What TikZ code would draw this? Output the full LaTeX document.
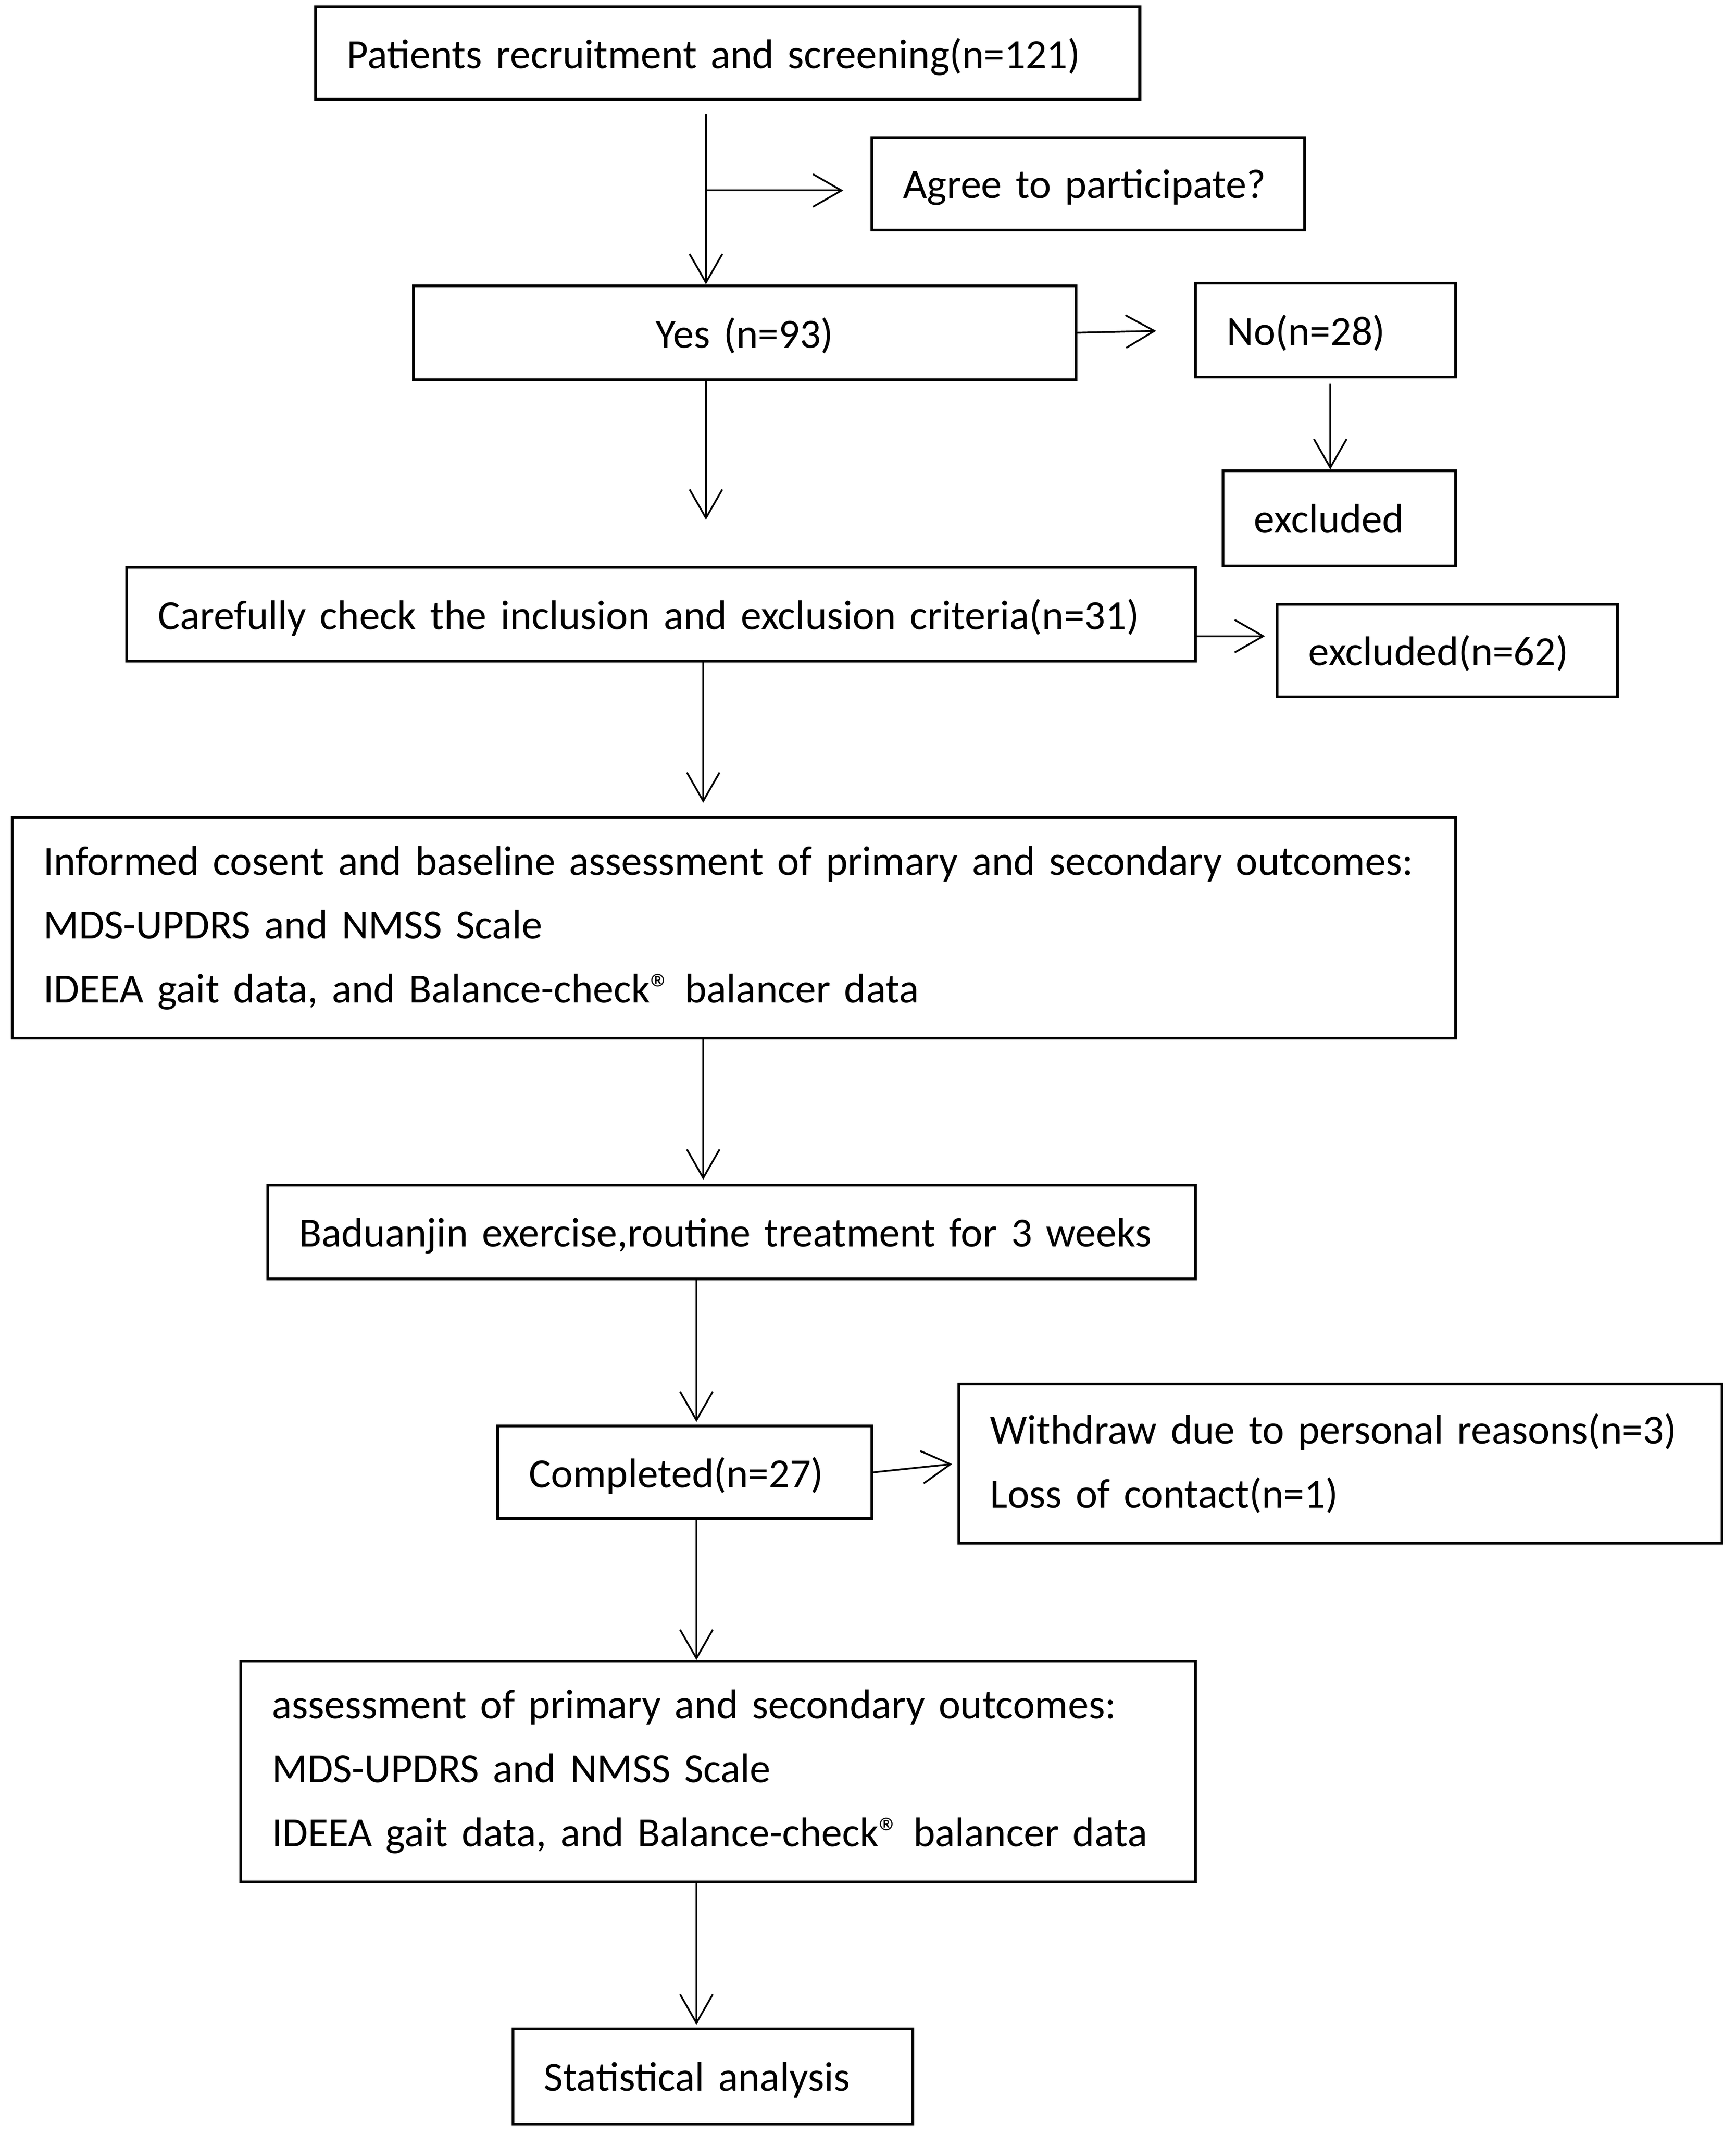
\documentclass[tikz,border=0pt]{standalone}
\usepackage{fontspec}
\setmainfont{Carlito}
\usetikzlibrary{arrows.meta}
\begin{document}
\begin{tikzpicture}[x=1pt,y=-1pt,
  box/.style={draw=black, line width=2pt, anchor=north west, inner xsep=23pt, inner ysep=0pt,
    align=left, font=\fontsize{30.5}{47}\selectfont},
  oneline/.style={box, text depth=0pt},
  conn/.style={draw=black, line width=1.3pt, -{Straight Barb[length=21pt,width=24pt,line width=1.3pt]}}
]
\useasboundingbox[fill=white] (0,0) rectangle (1276,1568.3);
\node[oneline, minimum width=606pt, minimum height=68pt, text width=560pt] (A) at (231,4) {\mbox{Patients recruitment and screening(n=121)}};
\node[oneline, minimum width=318pt, minimum height=68pt, text width=272pt] (agree) at (640,100) {\mbox{Agree to participate?}};
\node[oneline, minimum width=487pt, minimum height=69pt, text width=441pt, align=center] (yes) at (303,209) {Yes (n=93)};
\node[oneline, minimum width=191pt, minimum height=69pt, text width=145pt] (no) at (878,207) {\mbox{No(n=28)}};
\node[oneline, minimum width=171pt, minimum height=70pt, text width=125pt] (exa) at (898,345) {\mbox{excluded}};
\node[oneline, minimum width=786pt, minimum height=69pt, text width=740pt] (careful) at (92,416) {\mbox{Carefully check the inclusion and exclusion criteria(n=31)}};
\node[oneline, minimum width=250pt, minimum height=68pt, text width=204pt] (exb) at (938,443) {\mbox{excluded(n=62)}};
\node[box, minimum width=1061pt, minimum height=162pt, text width=1015pt] (informed) at (8,600) {\mbox{Informed cosent and baseline assessment of primary and secondary outcomes:}\\\mbox{MDS-UPDRS and NMSS Scale}\\\mbox{IDEEA gait data, and Balance-check® balancer data}};
\node[oneline, minimum width=682pt, minimum height=69pt, text width=636pt] (bad) at (196,870) {\mbox{Baduanjin exercise,routine treatment for 3 weeks}};
\node[oneline, minimum width=275pt, minimum height=68pt, text width=229pt] (comp) at (365,1047) {\mbox{Completed(n=27)}};
\node[box, minimum width=561pt, minimum height=117pt, text width=515pt] (with) at (704,1016) {\mbox{Withdraw due to personal reasons(n=3)}\\\mbox{Loss of contact(n=1)}};
\node[box, minimum width=702pt, minimum height=162pt, text width=656pt] (assess) at (176,1220) {\mbox{assessment of primary and secondary outcomes:}\\\mbox{MDS-UPDRS and NMSS Scale}\\\mbox{IDEEA gait data, and Balance-check® balancer data}};
\node[oneline, minimum width=294pt, minimum height=70pt, text width=248pt] (stat) at (376,1490) {\mbox{Statistical analysis}};
\coordinate (c1) at (519,84);
\coordinate (c1b) at (519,140);
\coordinate (c3) at (517,0);
\coordinate (c4) at (512,0);
\coordinate (c5) at (978,0);
\draw[conn] (c1) -- (c1 |- yes.north);
\draw[conn, shorten >=20pt] (c1b) -- (c1b -| agree.west);
\draw[conn, shorten >=28pt] (yes.east) -- (no.west);
\draw[conn, shorten <=4pt] (no.south -| c5) -- (exa.north -| c5);
\draw[conn, shorten >=34pt] (yes.south -| c1) -- (careful.north -| c1);
\draw[conn, shorten >=8pt] ([yshift=-16pt]careful.east) -- ([yshift=-16pt]careful.east -| exb.west);
\draw[conn, shorten >=10pt] (careful.south -| c3) -- (informed.north -| c3);
\draw[conn, shorten >=3pt] (informed.south -| c3) -- (bad.north -| c3);
\draw[conn, shorten >=2pt] (bad.south -| c4) -- (comp.north -| c4);
\draw[conn, shorten >=4pt] (comp.east) -- (with.west);
\draw[conn] (comp.south -| c4) -- (assess.north -| c4);
\draw[conn, shorten >=2pt] (assess.south -| c4) -- (stat.north -| c4);
\end{tikzpicture}
\end{document}
